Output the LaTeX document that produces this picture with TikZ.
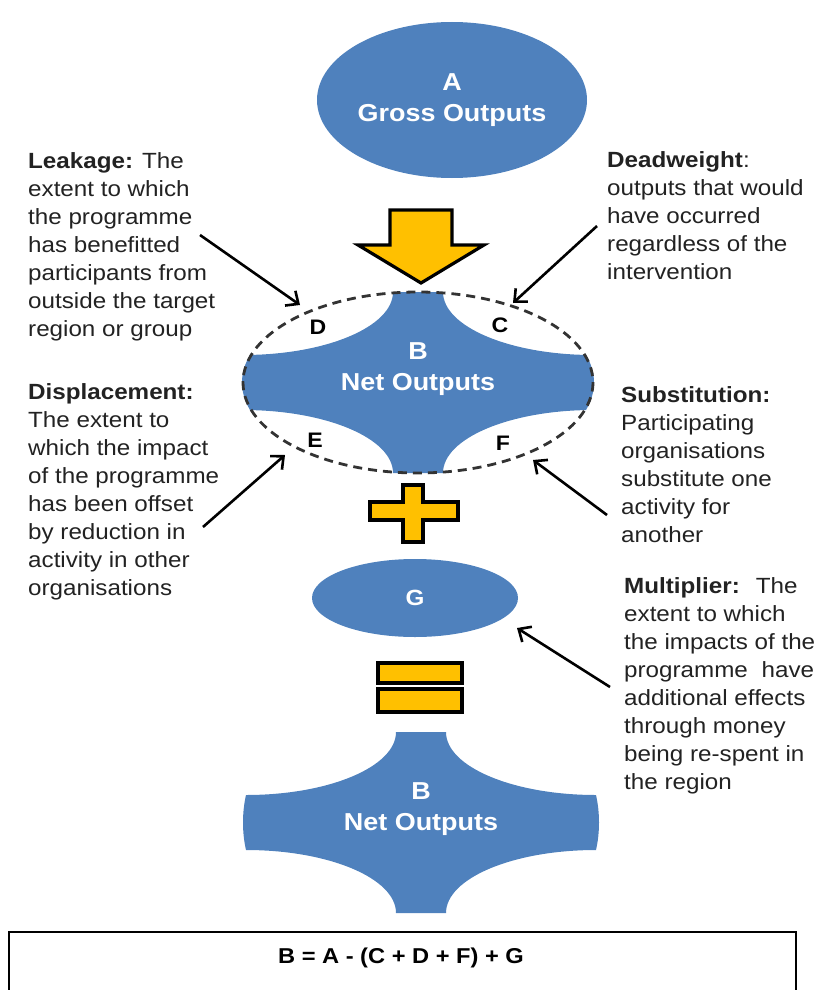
\documentclass[tikz,border=0pt]{standalone}
\usepackage{fontspec}
\setmainfont{Liberation Sans}[FakeStretch=1.1]
\usetikzlibrary{arrows.meta,shapes.geometric}
\definecolor{blu}{HTML}{4F81BD}
\definecolor{gold}{HTML}{FFC000}
\definecolor{txt}{HTML}{222222}
\definecolor{dashc}{HTML}{333333}
\tikzset{
  netout/.pic={
    \fill[blu] (-25,-90.5) -- (25,-90.5)
      .. controls (25,-55.7) and (92.2,-27.5) .. (175,-27.5)
      .. controls (179,-10) and (179,10) .. (175,27.5)
      .. controls (92.2,27.5) and (25,55.7) .. (25,90.5)
      -- (-25,90.5)
      .. controls (-25,55.7) and (-92.2,27.5) .. (-175,27.5)
      .. controls (-179,10) and (-179,-10) .. (-175,-27.5)
      .. controls (-92.2,-27.5) and (-25,-55.7) .. (-25,-90.5) -- cycle;
  },
  bodytext/.style={anchor=north west, inner sep=0pt, align=left, text=txt,
    font=\fontsize{22}{28}\selectfont},
  titletext/.style={inner sep=0pt, align=center, text=white,
    font=\fontsize{24.5}{31}\selectfont\bfseries},
  letter/.style={inner sep=0pt, text=black, font=\fontsize{21}{25}\selectfont\bfseries},
  blueell/.style={ellipse, fill=blu, inner sep=0pt},
  goldshape/.style={fill=gold, draw=black, line width=3.2pt, line join=miter},
  pointer/.style={draw=black, line width=2.6pt,
    -{Straight Barb[length=10pt,width=18pt]}},
}
\begin{document}
\begin{tikzpicture}[x=1pt,y=-1pt]
\useasboundingbox (0,0) rectangle (817,990);

% A ellipse
\node[blueell, minimum width=270pt, minimum height=156pt, titletext] (A) at (452,100) {A\\Gross Outputs};

% down arrow
\draw[goldshape] (390,210) -- (452,210) -- (452,245) -- (484,245) -- (421,283)
  -- (358,245) -- (390,245) -- cycle;

% upper B shape, clipped to the dashed ellipse
\begin{scope}
  \clip (418,382.5) ellipse [x radius=176, y radius=92];
  \pic at (418,382.5) {netout};
\end{scope}
\node[titletext] (B1) at (418,369.5) {B\\Net Outputs};
\draw[dashc, line width=2.8pt, dash pattern=on 9pt off 6pt] (418,382.5) ellipse [x radius=175, y radius=90.5];
\node[letter] (D) at (318,327) {D};
\node[letter] (C) at (500,325) {C};
\node[letter] (E) at (315,440) {E};
\node[letter] (F) at (503,443) {F};

% plus
\draw[goldshape] (403,485) -- (423,485) -- (423,502) -- (458,502) -- (458,520)
  -- (423,520) -- (423,542) -- (403,542) -- (403,520) -- (370,520) -- (370,502)
  -- (403,502) -- cycle;

% G
\node[blueell, minimum width=206pt, minimum height=78pt, text=white,
  font=\fontsize{22}{26}\selectfont\bfseries] (G) at (415,598) {G};

% equals
\draw[goldshape] (378,663) rectangle (462,683);
\draw[goldshape] (378,689) rectangle (462,712);

% lower B shape
\pic at (421,822.5) {netout};
\node[titletext] (B2) at (421,809.5) {B\\Net Outputs};

% texts
\node[bodytext] (leak) at (28,148.4) {\strut\textbf{Leakage:} The\\extent to which\\the programme\\has benefitted\\participants from\\outside the target\\region or group};
\node[bodytext] (dead) at (607,147.4) {\strut\textbf{Deadweight}:\\outputs that would\\have occurred\\regardless of the\\intervention};
\node[bodytext] (disp) at (28,379.4) {\strut\textbf{Displacement:}\\The extent to\\which the impact\\of the programme\\has been offset\\by reduction in\\activity in other\\organisations};
\node[bodytext] (subs) at (621,382.4) {\strut\textbf{Substitution:}\\Participating\\organisations\\substitute one\\activity for\\another};
\node[bodytext] (mult) at (624,573.4) {\strut\textbf{Multiplier:}\hspace{7pt} The\\extent to which\\the impacts of the\\programme\hspace{7pt} have\\additional effects\\through money\\being re-spent in\\the region};

% arrows
\coordinate (lk1) at (200,235); \coordinate (lk2) at (300,305);
\coordinate (dw1) at (597,226); \coordinate (dw2) at (513,303);
\coordinate (dp1) at (203,527); \coordinate (dp2) at (285,455);
\coordinate (sb1) at (607,515); \coordinate (sb2) at (533,460);
\coordinate (mp1) at (610,687); \coordinate (mp2) at (517,628);
\draw[pointer] (lk1) -- (lk2);
\draw[pointer] (dw1) -- (dw2);
\draw[pointer] (dp1) -- (dp2);
\draw[pointer] (sb1) -- (sb2);
\draw[pointer] (mp1) -- (mp2);

% formula box
\draw[black, line width=2.4pt] (9,995) -- (9,932) -- (796,932) -- (796,995);
\node[inner sep=0pt, text=black, font=\fontsize{21.5}{25}\selectfont\bfseries] (formula) at (401,958) {B = A - (C + D + F) + G};
\end{tikzpicture}
\end{document}
